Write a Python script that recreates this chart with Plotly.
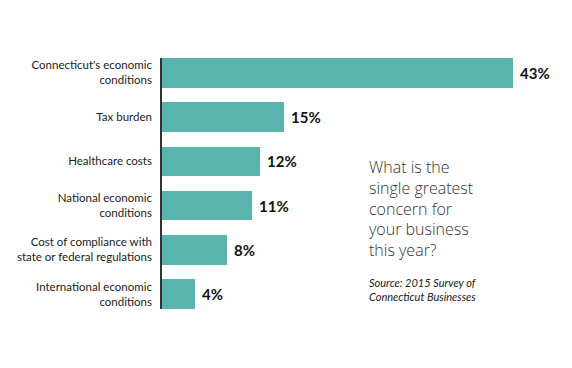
import plotly.graph_objects as go

categories = [
    "Connecticut's economic<br>conditions",
    "Tax burden",
    "Healthcare costs",
    "National economic<br>conditions",
    "Cost of compliance with<br>state or federal regulations",
    "International economic<br>conditions",
]
values = [43, 15, 12, 11, 8, 4]
value_labels = ["43%", "15%", "12%", "11%", "8%", "4%"]

BAR_COLOR = "#59b4ae"
BW = 0.667

fig = go.Figure()
fig.add_trace(go.Bar(
    x=values, y=categories, orientation="h",
    marker=dict(color=BAR_COLOR, line=dict(width=0)),
    width=BW, hoverinfo="skip",
))

for v, c, t in zip(values, categories, value_labels):
    fig.add_annotation(
        x=v, y=c, xref="x", yref="y", text=t, showarrow=False,
        xanchor="left", xshift=5,
        font=dict(family="Lato, Open Sans, sans-serif", size=15, color="#111111", weight=700),
    )

fig.add_annotation(
    xref="paper", yref="paper", x=0.515, y=0.40, xanchor="left", yanchor="middle",
    align="left", showarrow=False,
    text="What is the<br>single greatest<br>concern for<br>your business<br>this year?",
    font=dict(family="Open Sans, Lato, sans-serif", size=16, color="#333333", weight=300),
)
fig.add_annotation(
    xref="paper", yref="paper", x=0.515, y=0.076, xanchor="left", yanchor="middle",
    align="left", showarrow=False,
    text="<i>Source: 2015 Survey of<br>Connecticut Businesses</i>",
    font=dict(family="Lato, Open Sans, sans-serif", size=11, color="#222222"),
)

fig.update_layout(
    width=572, height=368,
    margin=dict(l=154, r=20, t=50, b=67, autoexpand=False),
    paper_bgcolor="white", plot_bgcolor="white",
    showlegend=False,
    bargap=0,
    xaxis=dict(range=[0, 48.8], visible=False, fixedrange=True, automargin=False),
    yaxis=dict(
        range=[5 + BW / 2, -BW / 2],
        showline=True, linecolor="#333333", linewidth=1.5,
        showgrid=False, zeroline=False, ticks="", ticklabelstandoff=6,
        tickfont=dict(family="Lato, Open Sans, sans-serif", size=11.5, color="#222222"),
        fixedrange=True, automargin=False,
    ),
)

fig.write_html("out.html")
